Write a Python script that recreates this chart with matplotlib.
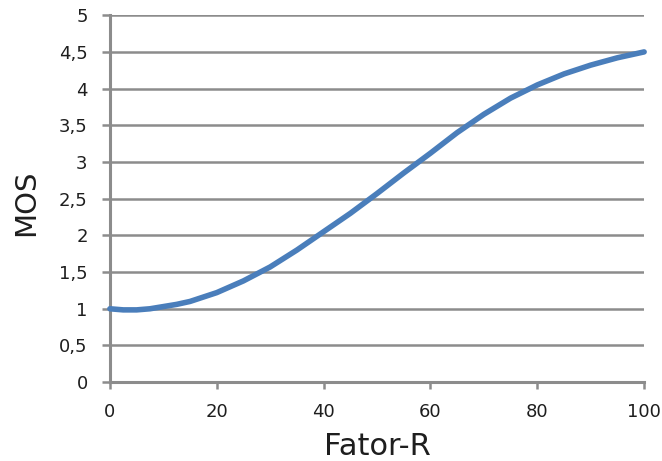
import matplotlib
matplotlib.use("Agg")
import matplotlib.pyplot as plt

r_factor = [0, 2.5, 5, 7.5, 10, 12.5, 15, 17.5, 20, 25, 30, 35, 40, 45, 50, 55, 60, 65, 70, 75, 80, 85, 90, 95, 100]
mos = [1.00, 0.985, 0.985, 1.00, 1.03, 1.06, 1.10, 1.16, 1.22, 1.38, 1.57, 1.80, 2.05, 2.30, 2.57, 2.85, 3.12, 3.40, 3.65, 3.87, 4.05, 4.20, 4.32, 4.42, 4.50]
y_ticks = [0, 0.5, 1, 1.5, 2, 2.5, 3, 3.5, 4, 4.5, 5]
y_labels = ["0", "0,5", "1", "1,5", "2", "2,5", "3", "3,5", "4", "4,5", "5"]
x_ticks = [0, 20, 40, 60, 80, 100]

grid_c = "#8c8c8c"
text_c = "#1e1e1e"
fig = plt.figure(figsize=(6.62, 4.61), dpi=100)
ax = fig.add_axes([0.166, 0.171, 0.807, 0.796])
ax.plot(r_factor, mos, color="#4a7ebb", lw=4.0, solid_joinstyle="round", solid_capstyle="round", zorder=3, clip_on=False)
ax.set_xlim(0, 100)
ax.set_ylim(0, 5)
ax.set_yticks(y_ticks)
ax.set_yticklabels(y_labels)
ax.set_xticks(x_ticks)
ax.yaxis.grid(True, color=grid_c, lw=1.8)
ax.set_axisbelow(True)
for s in ["top", "right"]:
    ax.spines[s].set_visible(False)
for s in ["left", "bottom"]:
    ax.spines[s].set_color(grid_c)
    ax.spines[s].set_linewidth(2.2)
ax.tick_params(axis="y", length=6, width=1.8, color=grid_c, labelsize=13, labelcolor=text_c, pad=10)
ax.tick_params(axis="x", length=5, width=1.8, color=grid_c, labelsize=13, labelcolor=text_c, pad=10)
ax.set_xlabel("Fator-R", fontsize=22, color=text_c)
ax.set_ylabel("MOS", fontsize=21, color=text_c)
ax.xaxis.set_label_coords(0.5, -0.135)
ax.yaxis.set_label_coords(-0.13, 0.49)
fig.savefig("out.png", dpi=100)
